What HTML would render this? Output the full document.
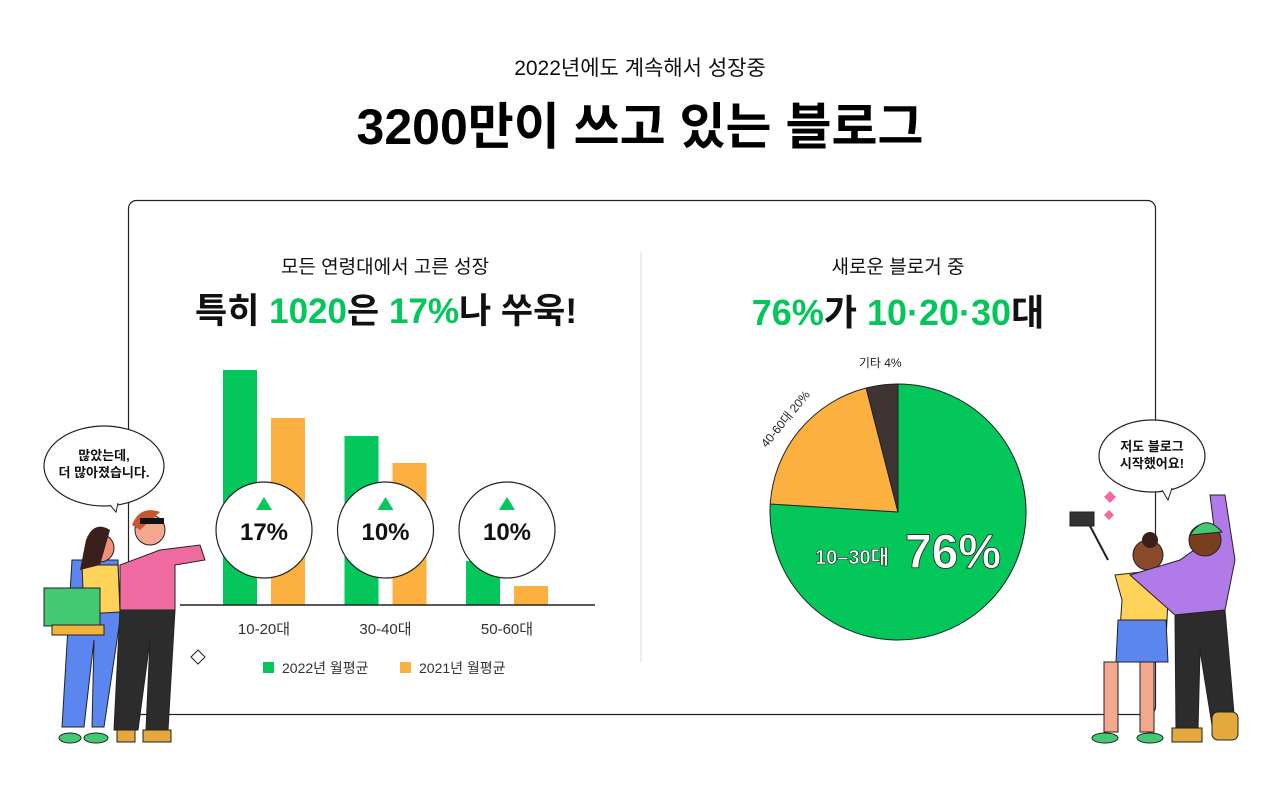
<!DOCTYPE html>
<html><head><meta charset="utf-8"><style>
body{margin:0;width:1280px;height:792px;background:#fff;overflow:hidden;font-family:"Liberation Sans","Noto Sans CJK KR",sans-serif;}
svg text{font-family:"Liberation Sans","Noto Sans CJK KR",sans-serif;}
</style></head><body>
<svg width="1280" height="792" viewBox="0 0 1280 792">
<text x="640" y="75" text-anchor="middle" font-size="21" fill="#111">2022년에도 계속해서 성장중</text>
<text x="640" y="144" text-anchor="middle" font-size="50" font-weight="bold" fill="#000">3200만이 쓰고 있는 블로그</text>
<rect x="128.5" y="200.5" width="1027" height="514" rx="8" fill="#fff" stroke="#222" stroke-width="1.2"/>
<line x1="641" y1="252" x2="641" y2="662" stroke="#ddd"/>
<text x="385" y="273" text-anchor="middle" font-size="19" fill="#111">모든 연령대에서 고른 성장</text>
<text x="386" y="323" text-anchor="middle" font-size="35" font-weight="bold" fill="#111">특히 <tspan fill="#03c75a">1020</tspan>은 <tspan fill="#03c75a">17%</tspan>나 쑤욱!</text>
<text x="898" y="273" text-anchor="middle" font-size="19" fill="#111">새로운 블로거 중</text>
<text x="898" y="325" text-anchor="middle" font-size="36" font-weight="bold" fill="#111"><tspan fill="#03c75a">76%</tspan>가 <tspan fill="#03c75a">10·20·30</tspan>대</text>
<g id="bars"></g>
<g id="pie"></g>
<g>
<ellipse cx="104" cy="466" rx="60" ry="40" fill="#fff" stroke="#222" stroke-width="1.2"/>
<path d="M110 505 L116 512 L118 503" fill="#fff" stroke="#222"/>
<text x="104" y="460" text-anchor="middle" font-size="13" font-weight="bold" fill="#111">많았는데,</text>
<text x="104" y="477" text-anchor="middle" font-size="13" font-weight="bold" fill="#111">더 많아졌습니다.</text>
<path d="M72 560 L118 560 L120 620 L104 727 L92 727 L94 640 L84 727 L62 727 Z" fill="#5b86f0" stroke="#222"/>
<path d="M82 565 L118 565 L120 612 L84 614 Z" fill="#ffd25a" stroke="#222"/>
<circle cx="100" cy="548" r="14" fill="#f0907a" stroke="#222"/>
<path d="M86 540 Q94 520 110 530 L100 565 L80 570 Z" fill="#3a1f1a"/>
<rect x="44" y="588" width="56" height="38" fill="#43c873" stroke="#222"/>
<rect x="52" y="625" width="52" height="10" fill="#f2b33d" stroke="#222"/>
<ellipse cx="70" cy="738" rx="11" ry="5" fill="#43c873" stroke="#222"/>
<ellipse cx="96" cy="738" rx="12" ry="5" fill="#43c873" stroke="#222"/>
<path d="M120 565 L160 550 L200 545 L205 560 L175 565 L175 610 L120 610 Z" fill="#ee6aa0" stroke="#222"/>
<path d="M120 610 L175 610 L168 730 L146 730 L150 640 L138 730 L114 730 Z" fill="#2c2c2c" stroke="#222"/>
<circle cx="150" cy="530" r="15" fill="#f5a890" stroke="#222"/>
<path d="M132 525 Q140 505 160 512 L140 530 Z" fill="#c8562a"/>
<rect x="140" y="518" width="24" height="6" fill="#111"/>
<rect x="117" y="730" width="18" height="12" fill="#e4a93e" stroke="#222"/>
<rect x="143" y="730" width="28" height="12" fill="#e4a93e" stroke="#222"/>
<path d="M198 650 L205 657 L198 664 L191 657 Z" fill="#fff" stroke="#222"/>
</g>
<g>
<ellipse cx="1152" cy="456" rx="53" ry="36" fill="#fff" stroke="#222" stroke-width="1.2"/>
<path d="M1162 490 L1168 500 L1172 488" fill="#fff" stroke="#222"/>
<text x="1152" y="451" text-anchor="middle" font-size="13" font-weight="bold" fill="#111">저도 블로그</text>
<text x="1152" y="468" text-anchor="middle" font-size="13" font-weight="bold" fill="#111">시작했어요!</text>
<path d="M1104 497 l6 -6 l6 6 l-6 6 Z" fill="#ee6aa0"/>
<path d="M1104 515 l5 -5 l5 5 l-5 5 Z" fill="#ee6aa0"/>
<rect x="1070" y="512" width="24" height="14" fill="#333" stroke="#222"/>
<line x1="1090" y1="526" x2="1108" y2="560" stroke="#222" stroke-width="2"/>
<path d="M1115 575 L1160 570 L1168 600 L1165 660 L1118 660 L1122 600 Z" fill="#ffd25a" stroke="#222"/>
<path d="M1118 620 L1166 620 L1168 662 L1116 662 Z" fill="#5b86f0" stroke="#222"/>
<rect x="1104" y="662" width="14" height="70" fill="#f5a890" stroke="#222"/>
<rect x="1140" y="662" width="14" height="70" fill="#f5a890" stroke="#222"/>
<circle cx="1148" cy="555" r="15" fill="#8a4a2a" stroke="#222"/>
<circle cx="1150" cy="540" r="8" fill="#3a1f1a"/>
<path d="M1130 575 L1180 560 L1215 535 L1210 495 L1225 495 L1235 560 L1225 610 L1175 615 Z" fill="#b07be8" stroke="#222"/>
<path d="M1175 615 L1225 610 L1235 725 L1212 725 L1200 650 L1198 730 L1176 730 Z" fill="#2c2c2c" stroke="#222"/>
<circle cx="1205" cy="540" r="16" fill="#7a3e1e" stroke="#222"/>
<path d="M1190 535 Q1205 512 1222 532 Z" fill="#43c873" stroke="#222"/>
<ellipse cx="1105" cy="738" rx="13" ry="5" fill="#43c873" stroke="#222"/>
<ellipse cx="1150" cy="738" rx="13" ry="5" fill="#43c873" stroke="#222"/>
<rect x="1172" y="728" width="30" height="14" fill="#e4a93e" stroke="#222"/>
<rect x="1212" y="712" width="26" height="28" rx="6" fill="#e4a93e" stroke="#222"/>
</g>
</svg>
<script>
const categories = ["10-20대","30-40대","50-60대"];
const values2022 = [235,169,44];
const values2021 = [187,142,19];
const growthLabels = ["17%","10%","10%"];
const pieLabels = ["10–30대","40-60대","기타"];
const pieValues = [76,20,4];
const legendLabels = ["2022년 월평균","2021년 월평균"];

const NS="http://www.w3.org/2000/svg";
function mk(tag,attrs,parent){const e=document.createElementNS(NS,tag);for(const k in attrs)e.setAttribute(k,attrs[k]);parent.appendChild(e);return e;}
const bars=document.getElementById('bars');
const baseY=605, groupX0=223, groupStep=121.5, barW=34, pxPerUnit=1;
function yScale(v){return baseY - v*pxPerUnit;}
categories.forEach((c,i)=>{
  const gx=groupX0+i*groupStep;
  let r=mk('rect',{x:gx,y:yScale(values2022[i]),width:barW,height:baseY-yScale(values2022[i]),fill:'#03c75a'},bars);
  
  
  r=mk('rect',{x:gx+48,y:yScale(values2021[i]),width:barW,height:baseY-yScale(values2021[i]),fill:'#fbb040'},bars);
  
  
  const t=mk('text',{x:gx+41,y:634,'text-anchor':'middle','font-size':15,fill:'#333'},bars);t.textContent=c;
  
  
  const cx=gx+41, cy=530;
  const ci=mk('circle',{cx:cx,cy:cy,r:48,fill:'#fff',stroke:'#222','stroke-width':1.2},bars);
  
  
  mk('path',{d:`M${cx-8} ${cy-20} L${cx+8} ${cy-20} L${cx} ${cy-33} Z`,fill:'#03c75a'},bars);
  const g=mk('text',{x:cx,y:cy+10,'text-anchor':'middle','font-size':24,'font-weight':'bold',fill:'#111'},bars);g.textContent=growthLabels[i];
  
  
});
const ax=mk('line',{x1:180,y1:605,x2:595,y2:605,stroke:'#222','stroke-width':1.5},bars);


const lc=['#03c75a','#fbb040'],lx=[263,400];
legendLabels.forEach((l,i)=>{
  const r=mk('rect',{x:lx[i],y:662,width:11,height:11,fill:lc[i]},bars);
  
  
  const t=mk('text',{x:lx[i]+19,y:673,'font-size':14,fill:'#333'},bars);t.textContent=l;
  
  
});
const pie=document.getElementById('pie');
const pcx=898,pcy=512,pr=128,colors=['#03c75a','#fbb040','#3d3433'];
const total=pieValues.reduce((a,b)=>a+b,0);
let a0=-Math.PI/2;
function pt(a,r){return [pcx+r*Math.cos(a),pcy+r*Math.sin(a)];}
pieValues.forEach((v,i)=>{
  const a1=a0+v/total*2*Math.PI;
  const p0=pt(a0,pr),p1=pt(a1,pr);
  const large=(a1-a0)>Math.PI?1:0;
  const s=mk('path',{d:`M${pcx} ${pcy} L${p0[0]} ${p0[1]} A${pr} ${pr} 0 ${large} 1 ${p1[0]} ${p1[1]} Z`,fill:colors[i],stroke:'#222','stroke-width':1},pie);
  
  
  const mid=(a0+a1)/2;
  if(i===0){
    const t=mk('text',{x:852,y:564,'text-anchor':'middle','font-size':20,'font-weight':'bold',fill:'#fff',stroke:'#222','stroke-width':0.6},pie);t.textContent=pieLabels[0];
    
    
    const b=mk('text',{x:953,y:568,'text-anchor':'middle','font-size':48,'font-weight':'bold',fill:'#fff',stroke:'#222','stroke-width':0.8},pie);b.textContent=v+'%';
    
    
  } else if(i===1){
    const p=pt(mid,142);
    const t=mk('text',{x:p[0],y:p[1],'text-anchor':'middle','font-size':12,fill:'#222',transform:`rotate(${mid*180/Math.PI+90} ${p[0]} ${p[1]})`},pie);t.textContent=pieLabels[1]+' '+v+'%';
    
    
  } else {
    const p=pt(mid,142);
    const t=mk('text',{x:p[0],y:p[1]-4,'text-anchor':'middle','font-size':12,fill:'#222'},pie);t.textContent=pieLabels[2]+' '+v+'%';
    
    
  }
  a0=a1;
});
</script>
</body></html>
